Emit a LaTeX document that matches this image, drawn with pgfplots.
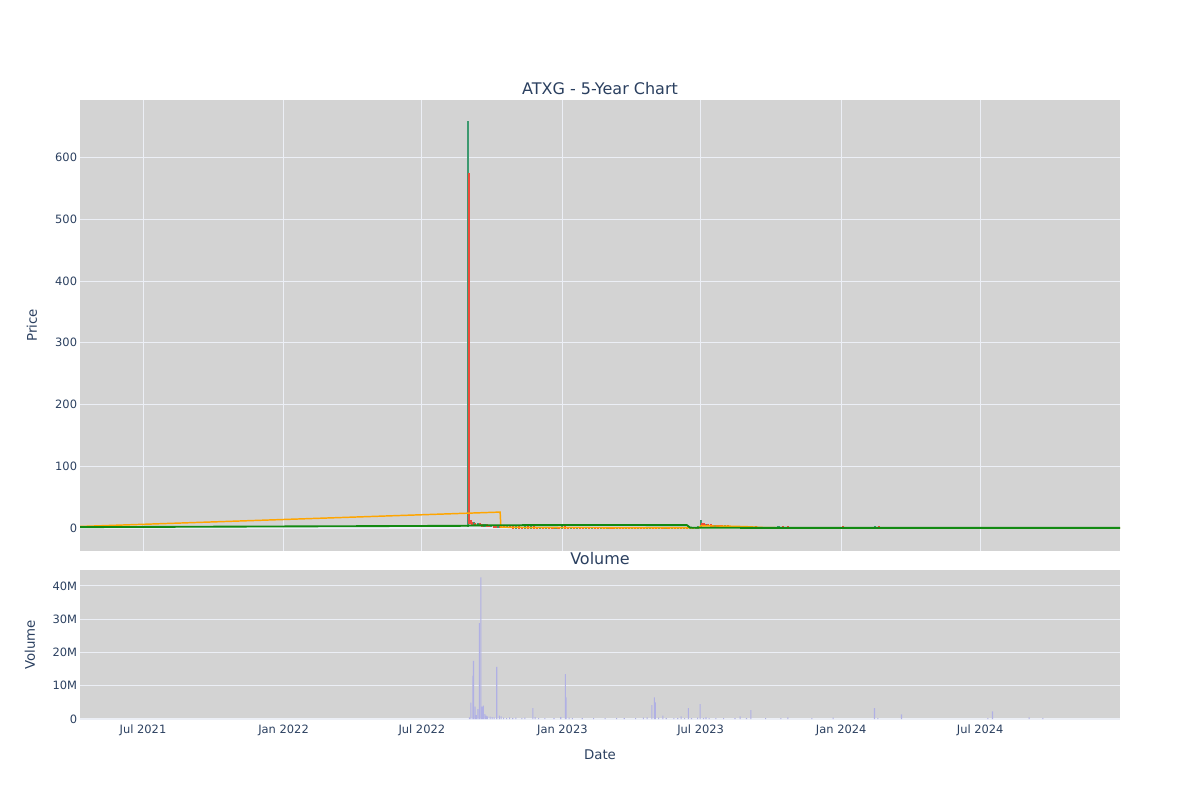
\documentclass[border=0pt]{standalone}
\usepackage{fontspec}
\setmainfont{DejaVu Sans}
\usepackage{pgfplots}
\pgfplotsset{compat=1.18}
\definecolor{txt}{HTML}{2A3F5F}
\definecolor{bg}{HTML}{D3D3D3}
\definecolor{grd}{RGB}{236,239,246}
\definecolor{inc}{HTML}{3D9970}
\definecolor{dec}{HTML}{EF4B3A}
\definecolor{ma1}{HTML}{FFA500}
\definecolor{ma2}{HTML}{128A12}
\definecolor{vol}{RGB}{176,176,228}
\begin{document}
\begin{tikzpicture}
\path[use as bounding box] (0,0) rectangle (900pt,600pt);
\pgfplotsset{common/.style={scale only axis, width=780pt, xmin=-82.5, xmax=1279,
  axis background/.style={fill=bg}, axis line style={draw=none}, major tick length=0pt,
  tick label style={font=\fontsize{8.6}{10}\selectfont, text=txt},
  yticklabel style={inner xsep=2pt},
  /pgf/number format/assume math mode=true, clip=true, anchor=south west}}
% ---------------- price ----------------
\begin{axis}[common, at={(60pt,186.75pt)}, height=338.25pt, ymin=-37, ymax=693,
  xtick={0,184,365,549,730,914,1096}, xticklabels={},
  ytick={0,100,...,600}, grid=major, grid style={grd, line width=0.75pt},
  unbounded coords=jump]
\draw[grd, line width=1.5pt] (axis cs:-82.5,0) -- (axis cs:1279,0);
% increasing candles
\addplot[inc, line width=1.6pt, line cap=rect, mark=none] coordinates {
(425.5,4) (425.5,657) (425.5,nan)
(433,6.5) (433,7.5) (433,nan) (438,5.3) (438,6) (438,nan) (447,4) (447,4.5) (447,nan)
(456,3) (456,3.3) (456,nan) (465,2.2) (465,2.5) (465,nan)
(476,1.4) (476,1.7) (476,nan) (488,1.0) (488,1.3) (488,nan) (500,0.7) (500,1.0) (500,nan)
(508,0.8) (508,1.2) (508,nan) (520,0.6) (520,0.9) (520,nan) (528,0.6) (528,0.8) (528,nan)
(540,0.4) (540,0.8) (540,nan) (548,0.5) (548,1.2) (548,nan) (560,0.5) (560,0.7) (560,nan)
(568,0.4) (568,0.6) (568,nan) (580,0.3) (580,0.5) (580,nan) (588,0.3) (588,0.5) (588,nan)
(600,0.2) (600,0.4) (600,nan) (608,0.3) (608,0.5) (608,nan) (620,0.3) (620,0.5) (620,nan)
(632,0.2) (632,0.4) (632,nan) (640,0.2) (640,0.3) (640,nan) (648,0.2) (648,0.5) (648,nan)
(660,0.2) (660,0.4) (660,nan) (664,0.4) (664,0.7) (664,nan) (676,0.3) (676,0.4) (676,nan)
(684,0.2) (684,0.3) (684,nan) (692,0.2) (692,0.3) (692,nan) (700,0.2) (700,0.3) (700,nan)
(708,0.2) (708,0.4) (708,nan) (716,0.2) (716,0.3) (716,nan) (724,0.2) (724,0.5) (724,nan)
(727,0.5) (727,1.5) (727,nan) (730,2) (730,11) (730,nan) (738,4.6) (738,5.2) (738,nan)
(749,3.6) (749,4.0) (749,nan) (762,2.4) (762,2.7) (762,nan) (780,1.2) (780,1.5) (780,nan)
(796,0.8) (796,1.0) (796,nan) (814,0.6) (814,0.8) (814,nan) (826,0.6) (826,0.7) (826,nan)
(832,0.7) (832,2.5) (832,nan) (850,0.8) (850,0.9) (850,nan) (868,0.6) (868,0.8) (868,nan)
(886,0.5) (886,0.7) (886,nan) (898,0.5) (898,0.6) (898,nan) (910,0.5) (910,0.6) (910,nan)
(922,0.6) (922,0.7) (922,nan) (934,0.5) (934,0.6) (934,nan) (946,0.5) (946,0.7) (946,nan)
(958,0.5) (958,2.2) (958,nan) (976,0.6) (976,0.7) (976,nan) (994,0.4) (994,0.9) (994,nan)
(1012,0.4) (1012,0.5) (1012,nan) (1024,0.4) (1024,0.5) (1024,nan) (1036,0.3) (1036,0.5) (1036,nan)
(1048,0.3) (1048,0.4) (1048,nan) (1060,0.3) (1060,0.5) (1060,nan) (1078,0.2) (1078,0.4) (1078,nan)
(1090,0.3) (1090,0.4) (1090,nan) (1102,0.3) (1102,0.4) (1102,nan) (1108,0.4) (1108,0.8) (1108,nan)
(1126,0.3) (1126,0.4) (1126,nan) (1138,0.3) (1138,0.4) (1138,nan) (1150,0.2) (1150,0.3) (1150,nan)
(1162,0.2) (1162,0.4) (1162,nan) (1174,0.2) (1174,0.3) (1174,nan) (1186,0.2) (1186,0.3) (1186,nan)
(1198,0.2) (1198,0.3) (1198,nan) (1210,0.2) (1210,0.3) (1210,nan) (1222,0.2) (1222,0.3) (1222,nan)
(1234,0.2) (1234,0.3) (1234,nan) (1246,0.2) (1246,0.3) (1246,nan) (1258,0.2) (1258,0.3) (1258,nan)
(1270,0.2) (1270,0.3) (1270,nan)
};
% decreasing candles
\addplot[dec, line width=1.6pt, line cap=rect, mark=none] coordinates {
(427,573) (427,8) (427,nan)
(429,12) (429,8) (429,nan) (431,8.5) (431,6.5) (431,nan) (435,7.2) (435,5.2) (435,nan)
(441,6) (441,4.5) (441,nan) (444,4.6) (444,4) (444,nan) (450,4.4) (450,3.5) (450,nan)
(453,3.5) (453,3) (453,nan) (459,3.2) (459,2.6) (459,nan) (462,2.6) (462,2.2) (462,nan)
(468,2.4) (468,1.8) (468,nan) (472,1.8) (472,1.4) (472,nan) (480,1.7) (480,1.3) (480,nan)
(484,1.3) (484,1.0) (484,nan) (492,1.3) (492,0.9) (492,nan) (496,0.9) (496,0.7) (496,nan)
(504,1.0) (504,0.8) (504,nan) (512,1.2) (512,0.9) (512,nan) (516,0.9) (516,0.6) (516,nan)
(524,0.9) (524,0.6) (524,nan) (532,0.8) (532,0.5) (532,nan) (536,0.6) (536,0.4) (536,nan)
(544,0.8) (544,0.5) (544,nan) (552,1.3) (552,0.8) (552,nan) (556,0.8) (556,0.5) (556,nan)
(564,0.7) (564,0.4) (564,nan) (572,0.6) (572,0.4) (572,nan) (576,0.4) (576,0.3) (576,nan)
(584,0.5) (584,0.3) (584,nan) (592,0.5) (592,0.3) (592,nan) (596,0.3) (596,0.2) (596,nan)
(604,0.4) (604,0.3) (604,nan) (612,0.5) (612,0.3) (612,nan) (616,0.3) (616,0.2) (616,nan)
(624,0.5) (624,0.3) (624,nan) (628,0.3) (628,0.2) (628,nan) (636,0.4) (636,0.2) (636,nan)
(644,0.3) (644,0.2) (644,nan) (652,0.5) (652,0.3) (652,nan) (656,0.3) (656,0.2) (656,nan)
(668,0.8) (668,0.4) (668,nan) (672,0.4) (672,0.3) (672,nan) (680,0.4) (680,0.2) (680,nan)
(688,0.3) (688,0.2) (688,nan) (696,0.3) (696,0.2) (696,nan) (704,0.3) (704,0.2) (704,nan)
(712,0.4) (712,0.2) (712,nan) (720,0.3) (720,0.2) (720,nan)
(732,7) (732,5.5) (732,nan) (734,6) (734,5) (734,nan) (736,5.5) (736,4.6) (736,nan)
(740,5.2) (740,4.5) (740,nan) (743,4.6) (743,4.0) (743,nan) (746,4.0) (746,3.6) (746,nan)
(752,4.0) (752,3.3) (752,nan) (755,3.3) (755,2.8) (755,nan) (758,2.8) (758,2.4) (758,nan)
(766,2.7) (766,2.0) (766,nan) (770,2.0) (770,1.6) (770,nan) (775,1.6) (775,1.2) (775,nan)
(785,1.5) (785,1.0) (785,nan) (790,1.0) (790,0.8) (790,nan) (802,1.0) (802,0.7) (802,nan)
(808,0.7) (808,0.6) (808,nan) (820,0.8) (820,0.6) (820,nan) (838,2.4) (838,1.5) (838,nan)
(844,1.2) (844,0.8) (844,nan) (856,0.9) (856,0.7) (856,nan) (862,0.7) (862,0.6) (862,nan)
(874,0.8) (874,0.6) (874,nan) (880,0.6) (880,0.5) (880,nan) (892,0.7) (892,0.5) (892,nan)
(904,0.6) (904,0.5) (904,nan) (916,1.5) (916,0.6) (916,nan) (928,0.7) (928,0.5) (928,nan)
(940,0.6) (940,0.5) (940,nan) (952,0.7) (952,0.5) (952,nan) (964,1.8) (964,0.8) (964,nan)
(970,0.8) (970,0.6) (970,nan) (982,0.7) (982,0.5) (982,nan) (988,0.5) (988,0.4) (988,nan)
(1000,0.9) (1000,0.5) (1000,nan) (1006,0.5) (1006,0.4) (1006,nan) (1018,0.5) (1018,0.4) (1018,nan)
(1030,0.5) (1030,0.3) (1030,nan) (1042,0.5) (1042,0.3) (1042,nan) (1054,0.4) (1054,0.3) (1054,nan)
(1066,0.5) (1066,0.3) (1066,nan) (1072,0.3) (1072,0.2) (1072,nan) (1084,0.4) (1084,0.3) (1084,nan)
(1096,0.4) (1096,0.3) (1096,nan) (1114,0.8) (1114,0.4) (1114,nan) (1120,0.4) (1120,0.3) (1120,nan)
(1132,0.4) (1132,0.3) (1132,nan) (1144,0.4) (1144,0.2) (1144,nan) (1156,0.3) (1156,0.2) (1156,nan)
(1168,0.4) (1168,0.2) (1168,nan) (1180,0.3) (1180,0.2) (1180,nan) (1192,0.3) (1192,0.2) (1192,nan)
(1204,0.3) (1204,0.2) (1204,nan) (1216,0.3) (1216,0.2) (1216,nan) (1228,0.3) (1228,0.2) (1228,nan)
(1240,0.3) (1240,0.2) (1240,nan) (1252,0.3) (1252,0.2) (1252,nan) (1264,0.3) (1264,0.2) (1264,nan)
(1276,0.3) (1276,0.2) (1276,nan)
};
% short moving average
\addplot[ma1, line width=1.1pt, mark=none] coordinates {
(-82.5,2.7) (467.5,26) (468.5,1.8) (480,1.3) (500,1.0) (550,0.8) (600,0.6) (650,0.6)
(700,0.5) (716,0.5) (728,0.7) (730,3.6) (760,3.4) (790,2.4) (812,1.0) (830,0.6)
(900,0.4) (1000,0.3) (1100,0.3) (1279,0.2)
};
% long moving average
\addplot[ma2, line width=1.4pt, mark=none] coordinates {
(-82.5,1.6) (425,3.8) (427,4.3) (450,4.6) (550,5.0) (650,5.0) (712,4.8) (716,1.0)
(720,0.6) (800,0.5) (1000,0.4) (1279,0.4)
};
\end{axis}
% ---------------- volume ----------------
\begin{axis}[common, at={(60pt,60pt)}, height=112.5pt, ymin=-0.3, ymax=44.8,
  xtick={0,184,365,549,730,914,1096},
  xticklabels={Jul 2021,Jan 2022,Jul 2022,Jan 2023,Jul 2023,Jan 2024,Jul 2024},
  ytick={0,10,20,30,40}, yticklabels={0,10M,20M,30M,40M},
  ymajorgrids, grid style={grd, line width=0.75pt}]
\draw[grd, line width=1.3pt] (axis cs:-82.5,0) -- (axis cs:1279,0);
\addplot[ybar, bar width=0.8pt, bar shift=0pt, draw=none, fill=vol] coordinates {
(427.3,0.5) (429.1,4.9) (432.0,13) (432.6,17.5) (434.7,3.7) (436.5,1.2) (438.3,3.0)
(440.4,28.8) (442.2,42.6) (443.9,3.7) (445.6,4.0) (447.5,1.5) (449.1,1.0) (451,0.8)
(454.4,0.7) (457,0.6) (459.6,0.5) (463.1,15.7) (466.5,1.0) (468.8,0.8) (472,0.4)
(476,0.3) (480,0.5) (484,0.3) (488,0.4) (496,0.3) (500,0.4)
(510.3,3.3) (513.3,0.6) (518,0.3) (526,0.3) (538,0.3)
(546.9,0.6) (553.0,13.5) (553.9,6.5) (557.8,0.4) (562,0.3)
(575,0.3) (590,0.3) (605,0.3)
(620,0.3) (630,0.3) (645,0.3)
(655,0.4) (660,0.5) (666.1,4.2) (669.5,6.5) (670.8,5.0) (675,0.4)
(680.5,1.0) (685,0.3) (695,0.3) (700,0.3) (704.5,0.8) (709,0.3)
(714.0,3.3) (718,0.3) (726,0.4) (729.3,4.5) (733.7,0.3) (737,0.5) (741,0.3)
(750,0.3) (760,0.3) (775,0.3) (781.7,0.8)
(790,0.3) (795.7,2.7) (815,0.3)
(835,0.3) (844.2,0.5) (875.6,0.3) (903.5,0.4) (957.6,3.3) (962,0.3)
(992.9,1.4) (1106,0.3) (1112.1,2.3) (1160.1,0.5) (1178,0.3)
};
\end{axis}
% ---------------- texts ----------------
\node[text=txt, font=\fontsize{12}{14}\selectfont] at (450pt,533.25pt) {ATXG - 5-Year Chart};
\node[text=txt, font=\fontsize{12}{14}\selectfont] at (450pt,180.75pt) {Volume};
\node[text=txt, font=\fontsize{10}{12}\selectfont, rotate=90] at (24pt,355.9pt) {Price};
\node[text=txt, font=\fontsize{10}{12}\selectfont, rotate=90] at (22.5pt,116.25pt) {Volume};
\node[text=txt, font=\fontsize{10}{12}\selectfont] at (450pt,33.75pt) {Date};
\end{tikzpicture}
\end{document}
